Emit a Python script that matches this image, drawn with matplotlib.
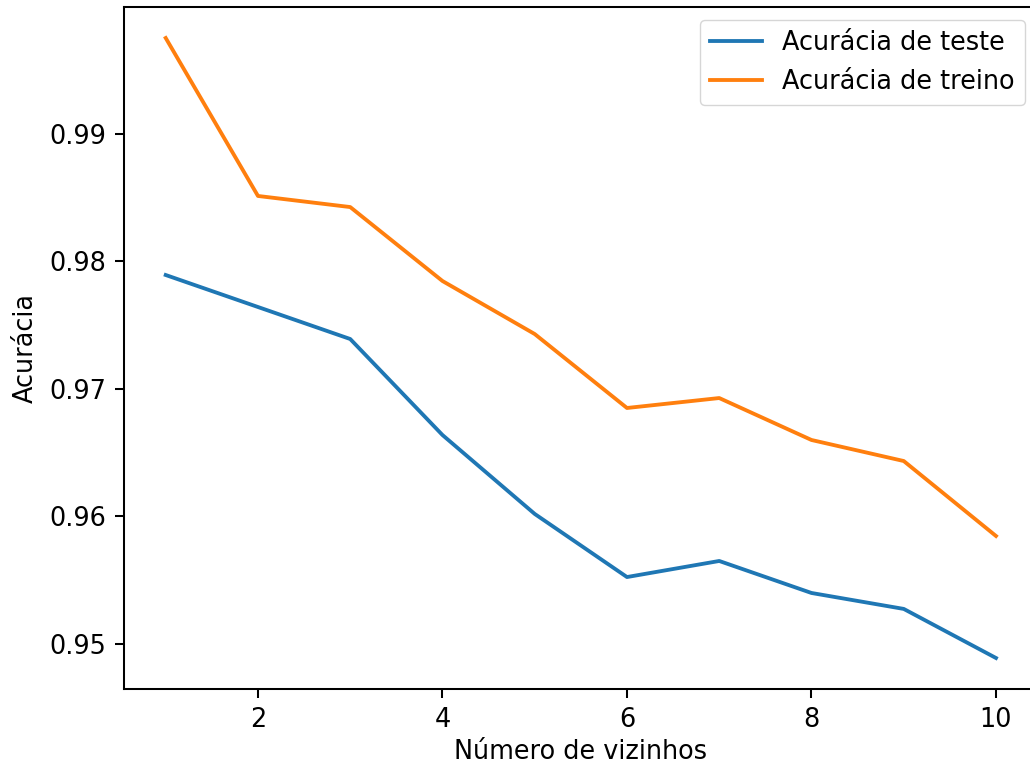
import matplotlib
matplotlib.use("Agg")
import matplotlib.pyplot as plt

vizinhos = [1, 2, 3, 4, 5, 6, 7, 8, 9, 10]
acuracia_teste = [0.97894, 0.97643, 0.97392, 0.96639, 0.96020, 0.95525, 0.95651, 0.95400, 0.95275, 0.94890]
acuracia_treino = [0.99753, 0.98514, 0.98427, 0.97847, 0.97431, 0.96851, 0.96929, 0.96600, 0.96435, 0.95847]

S = 1.84
plt.rcParams.update({
    "font.size": 10 * S,
    "axes.linewidth": 0.8 * S,
    "xtick.major.width": 0.8 * S,
    "ytick.major.width": 0.8 * S,
    "xtick.major.size": 3.5 * S,
    "ytick.major.size": 3.5 * S,
    "xtick.major.pad": 3.5 * S,
    "ytick.major.pad": 3.5 * S,
    "lines.linewidth": 1.5 * S,
    "legend.framealpha": 0.8,
})

fig = plt.figure(figsize=(10.30, 7.67), dpi=100)
ax = fig.add_axes([124.2 / 1030, (767 - 689) / 767, 913.3 / 1030, 682 / 767])
ax.plot(vizinhos, acuracia_teste, label="Acurácia de teste")
ax.plot(vizinhos, acuracia_treino, label="Acurácia de treino")
ax.set_xlabel("Número de vizinhos", labelpad=2.5 * S)
ax.set_ylabel("Acurácia", labelpad=4 * S)
ax.legend(loc="upper right")
fig.savefig("out.png", dpi=100)
